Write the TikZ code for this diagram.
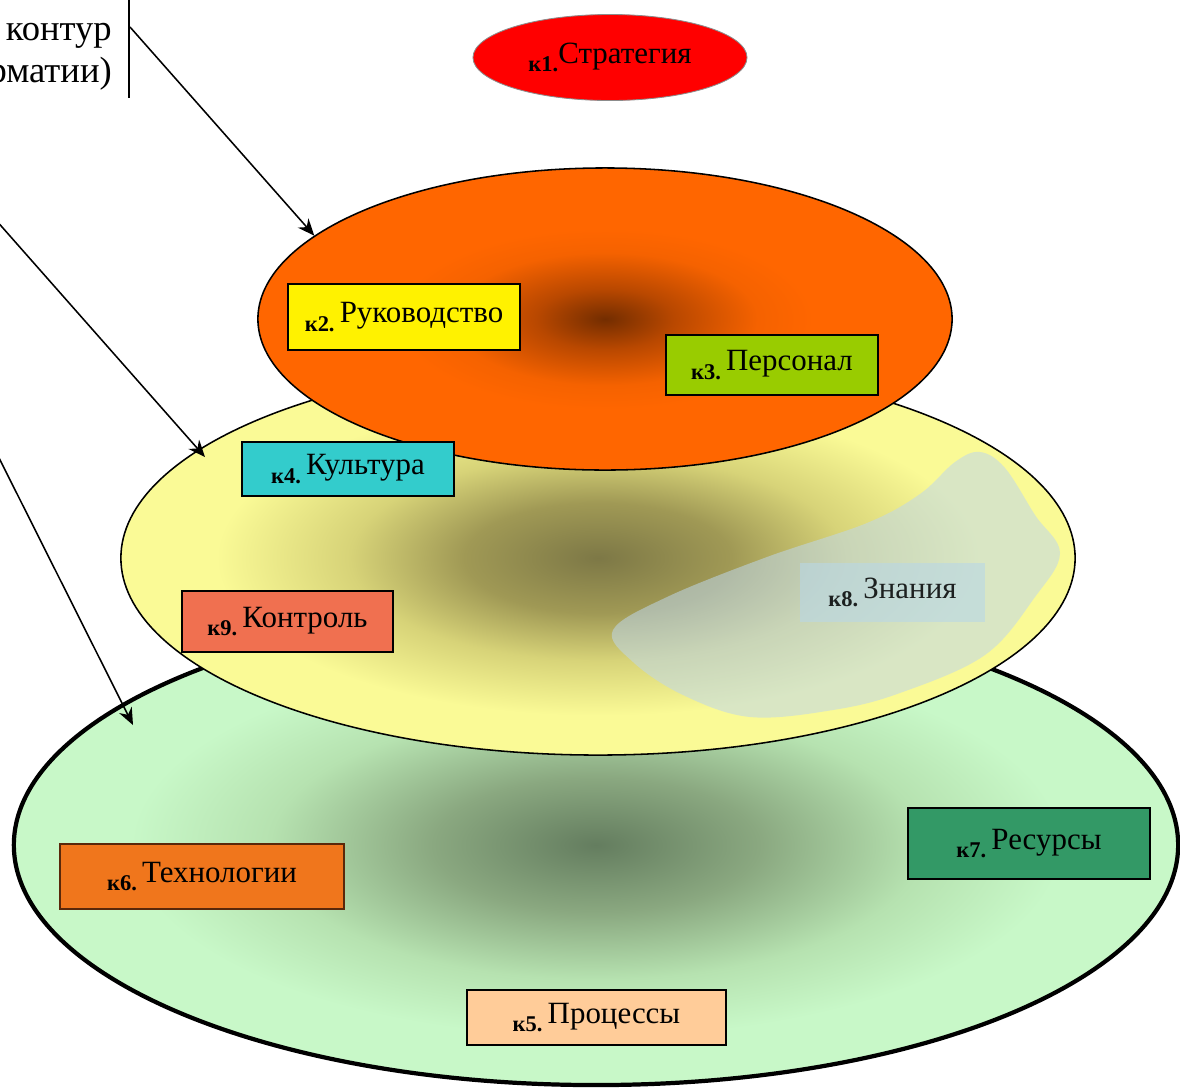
\documentclass[tikz,border=0pt]{standalone}
\usepackage{fontspec}
\setmainfont{Liberation Serif}
\usetikzlibrary{shapes.geometric,arrows.meta}

\definecolor{orcore}{RGB}{115,45,0}
\definecolor{ormid}{RGB}{185,72,0}
\definecolor{orhi}{RGB}{245,98,0}
\definecolor{oredge}{RGB}{255,102,0}
\definecolor{yecore}{RGB}{125,120,70}
\definecolor{yemid}{RGB}{160,153,85}
\definecolor{yehi}{RGB}{215,211,120}
\definecolor{yeedge}{RGB}{250,250,150}
\definecolor{grcore}{RGB}{100,125,95}
\definecolor{grmid}{RGB}{138,168,128}
\definecolor{grhi}{RGB}{182,226,176}
\definecolor{gredge}{RGB}{200,248,200}

\pgfdeclareradialshading{orshade}{\pgfpoint{0bp}{0bp}}{color(0bp)=(orcore); color(5bp)=(ormid); color(11bp)=(orhi); color(15bp)=(oredge); color(50bp)=(oredge)}
\pgfdeclareradialshading{yeshade}{\pgfpoint{0bp}{0bp}}{color(0bp)=(yecore); color(7bp)=(yemid); color(13bp)=(yehi); color(20bp)=(yeedge); color(50bp)=(yeedge)}
\pgfdeclareradialshading{grshade}{\pgfpoint{0bp}{0bp}}{color(0bp)=(grcore); color(7bp)=(grmid); color(14bp)=(grhi); color(20bp)=(gredge); color(50bp)=(gredge)}

\newcommand{\kpre}[1]{\raisebox{-6pt}{\fontsize{16pt}{16pt}\selectfont\bfseries к#1.}}

\tikzset{
  level/.style={ellipse, inner sep=0pt, draw=black, line width=1.1pt, shade},
  kbox/.style={rectangle, inner sep=0pt, draw=black, line width=0.9pt, font=\fontsize{22pt}{24pt}\selectfont},
  pointer/.style={-{Stealth[length=12pt,width=10pt]}, line width=1.1pt}
}

\begin{document}
\begin{tikzpicture}[x=0.025cm,y=-0.025cm]
\useasboundingbox (0,0) rectangle (1180,1088);
% уровни
\node[level, shading=grshade, line width=3pt, minimum width=291mm, minimum height=120mm] (procs) at (596,845) {};
\node[level, shading=yeshade, minimum width=238.5mm, minimum height=98.5mm] (cult) at (598,558) {};
\fill[fill={rgb,255:red,190;green,215;blue,235}, fill opacity=0.55] plot[smooth cycle, tension=0.6] coordinates {(613,630) (667,597) (767,557) (867,523) (920,494) (955,462) (980,452) (1005,468) (1035,515) (1060,553) (1035,597) (985,655) (900,693) (833,710) (750,717) (683,695) (633,662)}; % знания
\node[level, shading=orshade, minimum width=173.5mm, minimum height=75.5mm] (lead) at (605,319) {};
\node[ellipse, inner sep=0pt, fill=red, draw=black!45, line width=0.6pt, minimum width=68.5mm, minimum height=21.5mm, font=\fontsize{22pt}{24pt}\selectfont] (strat) at (610,57.5) {\kpre{1}Стратегия};
% блоки
\node[kbox, fill=yellow, minimum width=58mm, minimum height=16.5mm] (k2) at (404,317) {\kpre{2}\,Руководство};
\node[kbox, fill={rgb,255:red,153;green,204;blue,0}, minimum width=53mm, minimum height=15mm] (k3) at (772,365) {\kpre{3}\,Персонал};
\node[kbox, fill={rgb,255:red,51;green,204;blue,204}, minimum width=53mm, minimum height=13.5mm] (k4) at (348,469) {\kpre{4}\,Культура};
\node[kbox, fill={rgb,255:red,240;green,112;blue,80}, minimum width=52.75mm, minimum height=15.25mm] (k9) at (287.5,621.5) {\kpre{9}\,Контроль};
\node[kbox, draw=none, fill={rgb,255:red,185;green,215;blue,230}, fill opacity=0.6, text opacity=0.85, minimum width=46.25mm, minimum height=14.75mm] (k8) at (892.5,592.5) {\kpre{8}\,Знания};
\node[kbox, draw={rgb,255:red,90;green,40;blue,10}, fill={rgb,255:red,240;green,118;blue,28}, minimum width=71mm, minimum height=16.25mm] (k6) at (202,876.5) {\kpre{6}\,Технологии};
\node[kbox, fill={rgb,255:red,51;green,153;blue,102}, minimum width=60.5mm, minimum height=17.75mm] (k7) at (1029,843.5) {\kpre{7}\,Ресурсы};
\node[kbox, fill={rgb,255:red,255;green,204;blue,153}, minimum width=64.75mm, minimum height=13.75mm] (k5) at (596.5,1017.5) {\kpre{5}\,Процессы};
% подпись слева
\node[anchor=base east, inner sep=0pt, font=\fontsize{26pt}{30pt}\selectfont] (t1) at (112,40) {контур};
\node[anchor=base east, inner sep=0pt, font=\fontsize{26pt}{30pt}\selectfont] (t2) at (112,82) {рматии)};
\draw[line width=2pt] (129,0) -- (129,98);
% стрелки
\coordinate (s1) at (130,27);
\coordinate (s2) at (-20,202);
\coordinate (s3) at (-20,420);
\coordinate (e2) at (205,457);
\coordinate (e3) at (133,725);
\draw[pointer] (s1) -- (lead.164);
\draw[pointer] (s2) -- (e2);
\draw[pointer] (s3) -- (e3);
\end{tikzpicture}
\end{document}
